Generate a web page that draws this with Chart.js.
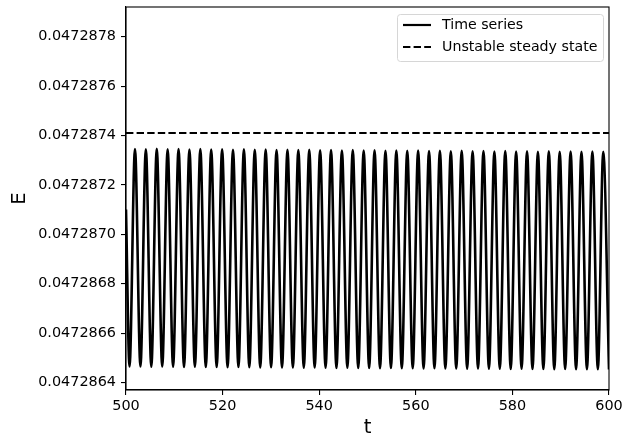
<!DOCTYPE html>
<html>
<head>
<meta charset="utf-8">
<script src="https://cdn.jsdelivr.net/npm/chart.js@4/dist/chart.umd.min.js"></script>
<style>
  body { margin: 0; background: #fff; }
  #c { display: block; }
</style>
</head>
<body>
<canvas id="c" width="623" height="436"></canvas>
<script>
// values: turning points of the time series
const startT = 500
const startE = 0.0472871

const troughT = [500.73, 502.99, 505.24, 507.50, 509.75, 512.01, 514.26, 516.52, 518.77, 521.03,
  523.28, 525.53, 527.79, 530.04, 532.30, 534.55, 536.81, 539.06, 541.32, 543.57,
  545.83, 548.08, 550.34, 552.59, 554.85, 557.10, 559.36, 561.61, 563.86, 566.12,
  568.37, 570.63, 572.88, 575.14, 577.39, 579.65, 581.90, 584.16, 586.41, 588.67,
  590.92, 593.18, 595.43, 597.69, 600.00]
const troughE = [0.047286465, 0.047286465, 0.047286464, 0.047286465, 0.047286464, 0.047286463, 0.047286464, 0.047286463, 0.047286463, 0.047286462,
  0.047286463, 0.047286462, 0.047286461, 0.047286462, 0.047286461, 0.047286461, 0.047286460, 0.047286461, 0.047286460, 0.047286459,
  0.047286460, 0.047286459, 0.047286459, 0.047286458, 0.047286459, 0.047286458, 0.047286458, 0.047286457, 0.047286458, 0.047286457,
  0.047286457, 0.047286456, 0.047286457, 0.047286456, 0.047286456, 0.047286455, 0.047286456, 0.047286455, 0.047286455, 0.047286454,
  0.047286455, 0.047286454, 0.047286454, 0.047286454, 0.047286453]

const peakT = [501.86, 504.11, 506.37, 508.62, 510.88, 513.13, 515.39, 517.64, 519.90, 522.15,
  524.41, 526.66, 528.92, 531.17, 533.43, 535.68, 537.94, 540.19, 542.45, 544.70,
  546.95, 549.21, 551.46, 553.72, 555.97, 558.23, 560.48, 562.74, 564.99, 567.25,
  569.50, 571.76, 574.01, 576.27, 578.52, 580.77, 583.03, 585.28, 587.54, 589.79,
  592.05, 594.30, 596.56, 598.81]
const peakE = [0.047287345, 0.047287344, 0.047287346, 0.047287344, 0.047287345, 0.047287343, 0.047287345, 0.047287343, 0.047287344, 0.047287342,
  0.047287344, 0.047287342, 0.047287343, 0.047287341, 0.047287342, 0.047287341, 0.047287342, 0.047287340, 0.047287341, 0.047287339,
  0.047287341, 0.047287339, 0.047287340, 0.047287338, 0.047287339, 0.047287338, 0.047287339, 0.047287337, 0.047287338, 0.047287336,
  0.047287338, 0.047287336, 0.047287337, 0.047287335, 0.047287337, 0.047287335, 0.047287336, 0.047287334, 0.047287336, 0.047287334,
  0.047287335, 0.047287334, 0.047287335, 0.047287334]

const steadyT = [500, 600]
const steadyE = [0.04728741, 0.04728741]

const xTicks = [500, 520, 540, 560, 580, 600]
const yTicks = [0.0472864, 0.0472866, 0.0472868, 0.0472870, 0.0472872, 0.0472874, 0.0472876, 0.0472878]

// merge turning points in time order
let series = [{x: startT, y: startE}]
for (let i = 0; i < troughT.length; i++) {
  series.push({x: troughT[i], y: troughE[i]})
  if (i < peakT.length) series.push({x: peakT[i], y: peakE[i]})
}
const steady = steadyT.map((t, i) => ({x: t, y: steadyE[i]}))

const FONT = 'DejaVu Sans'

const frame = {
  id: 'frame',
  afterDatasetsDraw(chart) {
    const a = chart.chartArea
    const ctx = chart.ctx
    ctx.save()
    ctx.strokeStyle = '#000'
    ctx.lineWidth = 1.1
    ctx.strokeRect(a.left, a.top, a.right - a.left, a.bottom - a.top)
    ctx.restore()
  },
  afterDraw(chart) {
    // legend box in the upper right corner
    const ctx = chart.ctx
    const bx = 397, by = 14, bw = 206, bh = 47
    ctx.save()
    ctx.fillStyle = 'rgba(255,255,255,0.8)'
    ctx.strokeStyle = '#d6d6d6'
    ctx.lineWidth = 1
    ctx.beginPath()
    ctx.roundRect(bx + 0.5, by + 0.5, bw, bh, 3)
    ctx.fill()
    ctx.stroke()
    const rows = [
      {label: 'Time series', dash: [], y: 25},
      {label: 'Unstable steady state', dash: [7.4, 3.2], y: 47}
    ]
    ctx.font = '14.2px ' + FONT
    ctx.textBaseline = 'middle'
    ctx.fillStyle = '#000'
    rows.forEach(r => {
      ctx.strokeStyle = '#000'
      ctx.lineWidth = 2.2
      ctx.setLineDash(r.dash)
      ctx.beginPath()
      ctx.moveTo(403, r.y)
      ctx.lineTo(431, r.y)
      ctx.stroke()
      ctx.fillText(r.label, 442, r.y)
    })
    ctx.restore()
  }
}

new Chart(document.getElementById('c').getContext('2d'), {
  type: 'line',
  data: {
    datasets: [
      {
        label: 'Time series',
        data: series,
        borderColor: '#000',
        borderWidth: 2.6,
        pointRadius: 0,
        tension: 0.4,
        cubicInterpolationMode: 'monotone',
        fill: false
      },
      {
        label: 'Unstable steady state',
        data: steady,
        borderColor: '#000',
        borderWidth: 2.1,
        borderDash: [7.4, 3.2],
        pointRadius: 0,
        fill: false
      }
    ]
  },
  options: {
    responsive: false,
    animation: false,
    devicePixelRatio: 1,
    layout: { padding: { left: 0, right: 14, top: 7, bottom: 0 } },
    plugins: {
      legend: { display: false },
      tooltip: { enabled: false }
    },
    scales: {
      x: {
        type: 'linear',
        min: 500,
        max: 600,
        afterBuildTicks: s => { s.ticks = xTicks.map(v => ({value: v})) },
        afterFit: s => { s.height = 46; s.paddingLeft = 0; s.paddingRight = 0 },
        grid: { drawOnChartArea: false, drawTicks: true, tickLength: 5, color: '#000', lineWidth: 1.1 },
        border: { display: true, color: '#000', width: 1.1 },
        ticks: { color: '#000', padding: 3, maxRotation: 0, font: { family: FONT, size: 14.4 }, callback: v => String(v) },
        title: { display: true, text: 't', color: '#000', padding: { top: 0, bottom: 0 }, font: { family: FONT, size: 19.6, lineHeight: 0.8 } }
      },
      y: {
        type: 'linear',
        min: 0.04728637,
        max: 0.04728792,
        afterBuildTicks: s => { s.ticks = yTicks.map(v => ({value: v})) },
        afterFit: s => { s.width = 126; s.paddingTop = 0; s.paddingBottom = 0 },
        grid: { drawOnChartArea: false, drawTicks: true, tickLength: 5, color: '#000', lineWidth: 1.1 },
        border: { display: true, color: '#000', width: 1.1 },
        ticks: { color: '#000', padding: 5, font: { family: FONT, size: 14.4 }, callback: v => v.toFixed(7) },
        title: { display: true, text: 'E', color: '#000', padding: { top: 12, bottom: 0 }, font: { family: FONT, size: 19.6, lineHeight: 0.8 } }
      }
    }
  },
  plugins: [frame]
})
</script>
</body>
</html>
